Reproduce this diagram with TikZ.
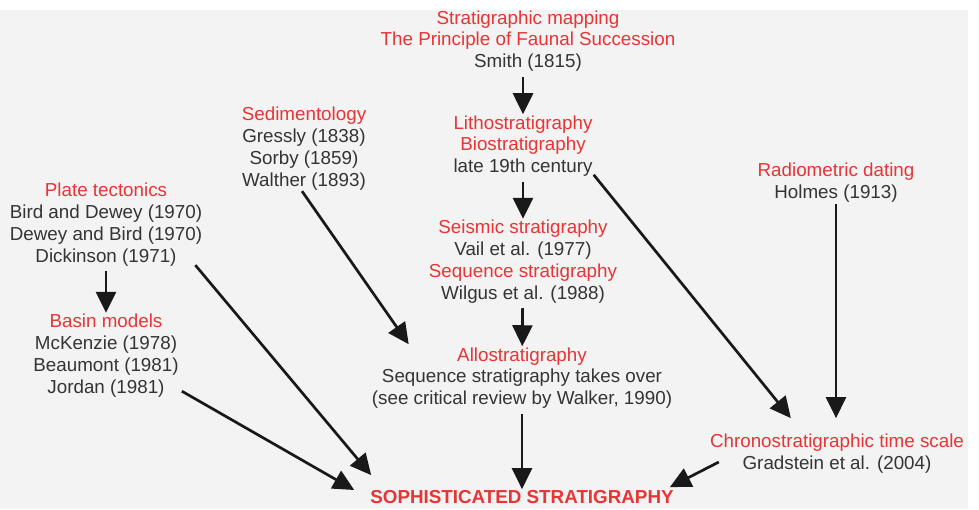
\documentclass[tikz,border=0pt]{standalone}
\usepackage{fontspec}
\setmainfont{Liberation Sans}
\usetikzlibrary{arrows.meta,calc}
\definecolor{redtxt}{RGB}{232,52,52}
\definecolor{greytxt}{RGB}{52,52,52}
\definecolor{panel}{RGB}{244,243,243}
\newcommand{\rd}[1]{\textcolor{redtxt}{#1}}

\begin{document}
\begin{tikzpicture}[x=1pt,y=-1pt,
  txt/.style={inner sep=1pt,align=center,text=greytxt,font=\fontsize{18.8}{21.8}\selectfont},
  arr/.style={line width=2.7pt,draw=black!90,-{Triangle[length=21pt,width=20pt]}}]
\useasboundingbox (0,0) rectangle (979,509);
%Shape: background
\fill [white] (0,0) rectangle (979,509);
\fill [panel] (0,10) rectangle (968,509);

% Text Node
\node [txt] (mapping) at (528,41) {\rd{Stratigraphic mapping}\\\rd{The Principle of Faunal Succession}\\Smith (1815)};
% Text Node
\node [txt] (litho) at (523,146) {\rd{Lithostratigraphy}\\\rd{Biostratigraphy}\\late 19th century};
% Text Node
\node [txt] (seismic) at (523,261.5) {\rd{Seismic stratigraphy}\\Vail et al. (1977)\\\rd{Sequence stratigraphy}\\Wilgus et al. (1988)};
% Text Node
\node [txt] (allo) at (522,378) {\rd{Allostratigraphy}\\Sequence stratigraphy takes over\\(see critical review by Walker, 1990)};
% Text Node
\node [txt] (soph) at (522,497) {\textbf{\rd{SOPHISTICATED STRATIGRAPHY}}};
% Text Node
\node [txt] (sedim) at (304,148.5) {\rd{Sedimentology}\\Gressly (1838)\\Sorby (1859)\\Walther (1893)};
% Text Node
\node [txt] (plate) at (106,224.5) {\rd{Plate tectonics}\\Bird and Dewey (1970)\\Dewey and Bird (1970)\\Dickinson (1971)};
% Text Node
\node [txt] (basin) at (106,355.5) {\rd{Basin models}\\McKenzie (1978)\\Beaumont (1981)\\Jordan (1981)};
% Text Node
\node [txt] (radio) at (836,183) {\rd{Radiometric dating}\\Holmes (1913)};
% Text Node
\node [txt] (chrono) at (837,454) {\rd{Chronostratigraphic time scale}\\Gradstein et al. (2004)};

%Straight Lines
\draw [arr,shorten <=4pt] (litho.north |- mapping.south) -- (litho);
\draw [arr,shorten <=4pt] (litho) -- (seismic);
\draw [arr,shorten <=4pt] (seismic) -- (allo);
\draw [arr,shorten <=4pt] (allo) -- (soph);
\draw [arr,shorten <=4pt] (plate) -- (basin);
\draw [arr,shorten >=15pt] (radio) -- (radio |- chrono.north);
%Straight Lines
\draw [arr] ([xshift=-2pt]sedim.south) -- ($(allo.north west)+(38,-2)$);
\draw [arr] ($(plate.south east)+(-8,-2)$) -- ($(soph.north west)+(2,-14)$);
\draw [arr] ($(basin.south east)+(2,-7)$) -- ($(soph.west)+(-15,-7)$);
\draw [arr] ($(litho.south east)+(0,-3)$) -- ($(chrono.north west)+(82,-15)$);
\draw [arr] ($(chrono.west)+(10,8)$) -- ($(soph.north east)+(-5,-2)$);

\end{tikzpicture}
\end{document}
